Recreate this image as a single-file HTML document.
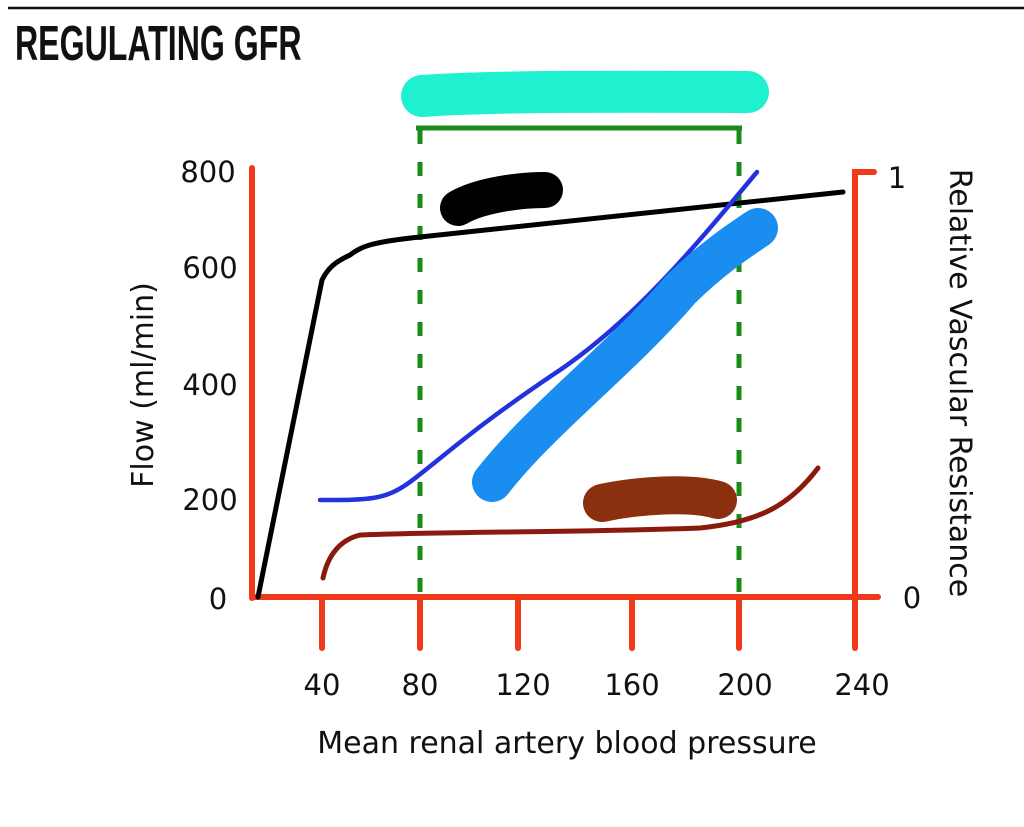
<!DOCTYPE html><html><head><style>body{margin:0;background:#fff}svg{display:block}text{font-family:"DejaVu Sans","Liberation Sans",sans-serif;fill:#111}</style></head><body>
<svg width="1024" height="827" viewBox="0 0 1024 827">
<line x1="8" y1="8" x2="1024" y2="8" stroke="#111" stroke-width="2.5"/>
<text x="15" y="60" style="font-family:'Liberation Sans Narrow','Liberation Sans',sans-serif;font-weight:bold;font-size:44px" transform="translate(15,60) scale(0.73,1.12) translate(-15,-60)">REGULATING GFR</text>
<g stroke="#ee3a1a" stroke-width="6" stroke-linecap="round" fill="none">
<line x1="252" y1="168" x2="252" y2="598"/>
<line x1="252" y1="597" x2="878" y2="597"/>
<polyline points="874,172 855,172 855,597"/>
<line x1="322" y1="597" x2="322" y2="648"/><line x1="420" y1="597" x2="420" y2="648"/><line x1="518" y1="597" x2="518" y2="648"/><line x1="632" y1="597" x2="632" y2="648"/><line x1="739" y1="597" x2="739" y2="648"/><line x1="855" y1="597" x2="855" y2="648"/>
</g>
<g font-size="29" text-anchor="middle">
<text x="208" y="182">800</text><text x="210" y="278">600</text><text x="210" y="395">400</text><text x="210" y="510">200</text><text x="218" y="609">0</text>
<text x="897" y="188">1</text><text x="912" y="608">0</text>
<text x="322" y="695">40</text><text x="420" y="695">80</text><text x="523" y="695">120</text><text x="632" y="695">160</text><text x="745" y="695">200</text><text x="862" y="695">240</text>
<text x="567" y="753" font-size="30">Mean renal artery blood pressure</text>
<text transform="translate(153,385) rotate(-90)" font-size="30">Flow (ml/min)</text>
<text transform="translate(950,383) rotate(90)" font-size="30">Relative Vascular Resistance</text>
</g>
<path d="M422,96 C500,90 700,92 748,92" stroke="#1ff0cf" stroke-width="42" stroke-linecap="round" fill="none"/>
<g stroke="#1a8a1a" stroke-width="5" fill="none">
<line x1="416" y1="128" x2="742" y2="128"/>
<line x1="420" y1="130" x2="420" y2="598" stroke-dasharray="14,18"/>
<line x1="739" y1="130" x2="739" y2="598" stroke-dasharray="14,18"/>
</g>
<path d="M458,208 C480,195 520,190 545,190" stroke="#000" stroke-width="36" stroke-linecap="round" fill="none"/>
<path d="M258,597 L322,280 C328,268 335,262 350,255 C362,246 372,242 420,237 L843,192" stroke="#000" stroke-width="5" fill="none" stroke-linecap="round"/>
<path d="M320,500 C370,500 385,500 410,482 C440,460 470,430 560,370 C640,315 700,240 757,172" stroke="#2233dd" stroke-width="4.5" fill="none" stroke-linecap="round"/>
<path d="M492,482 C540,420 620,360 680,290 C710,260 740,240 758,228" stroke="#1a8ef0" stroke-width="40" fill="none" stroke-linecap="round"/>
<path d="M602,503 C640,495 690,492 718,500" stroke="#8a300e" stroke-width="38" fill="none" stroke-linecap="round"/>
<path d="M323,578 C328,555 340,540 360,535 C420,532 600,532 700,528 C760,522 790,505 818,468" stroke="#8a1a0e" stroke-width="5" fill="none" stroke-linecap="round"/>
</svg></body></html>
